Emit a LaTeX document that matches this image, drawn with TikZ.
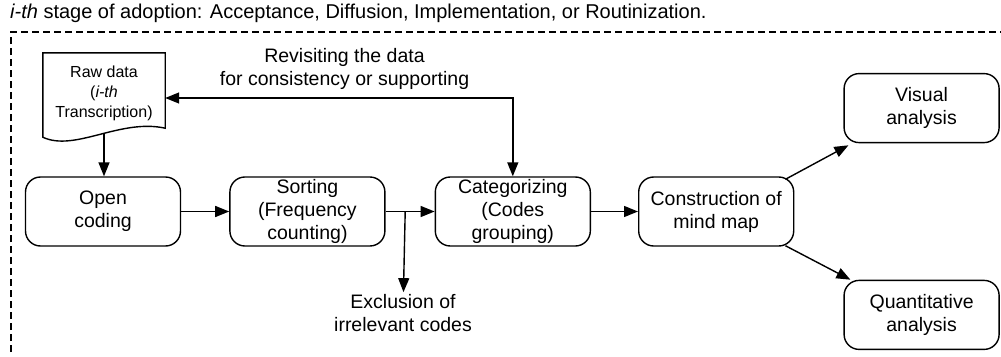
\documentclass[tikz,border=0pt]{standalone}
\usepackage{fontspec}
\setmainfont{Liberation Sans}
\usetikzlibrary{positioning,calc,arrows.meta,backgrounds}

\begin{document}
\begin{tikzpicture}[x=1pt, y=-1pt, font=\fontsize{19.5}{23}\selectfont,
	stagebox/.style={draw, rounded corners=15pt, line width=1.4pt, minimum width=155pt, minimum height=69pt, align=center, inner sep=2pt},
	flow/.style={line width=1.4pt, -{Triangle[length=14pt,width=11pt]}},
	twoway/.style={line width=1.4pt, {Triangle[length=14pt,width=11pt]}-{Triangle[length=14pt,width=11pt]}},
	rawdoc/.style={minimum width=122pt, minimum height=81pt, align=center, inner sep=0pt, font=\fontsize{16}{20}\selectfont}]
	
	\useasboundingbox (0,0) rectangle (1001,356);
	
	% stage frame and caption
	\node[anchor=base west, inner sep=0pt, font=\fontsize{20}{24}\selectfont] (title) at (10,18) {\textit{i-th} stage of adoption: Acceptance, Diffusion, Implementation, or Routinization.};
	\draw[line width=1.1pt, dash pattern=on 7pt off 4pt] (11,352) -- (11,32) -- (1001,32);
	
	% raw data document
	\node[rawdoc] (raw) at (104,93.5) {Raw data\\(\textit{i-th}\\Transcription)};
	\begin{pgfonlayer}{background}
		\fill[black!30, shift={(3,4)}] (raw.north west) -- (raw.north east) -- ($(raw.south east)+(0,-6)$) .. controls +(-45,-10) and +(32,15) .. ($(raw.south west)+(0,3)$) -- cycle;
		\draw[line width=1.4pt, fill=white] (raw.north west) -- (raw.north east) -- ($(raw.south east)+(0,-6)$) .. controls +(-45,-10) and +(32,15) .. ($(raw.south west)+(0,3)$) -- cycle;
	\end{pgfonlayer}
	
	% main steps
	\node[stagebox] (open) at (103,211.5) {Open\\coding};
	\node[stagebox, right=48pt of open] (sort) {Sorting\\(Frequency\\counting)};
	\node[stagebox, right=49pt of sort] (cat) {Categorizing\\(Codes\\grouping)};
	\node[stagebox, right=47pt of cat] (mind) {Construction of\\mind map};
	\node[stagebox, above right=33pt and 49pt of mind] (visual) {Visual\\analysis};
	\node[stagebox, below right=33pt and 49pt of mind] (quant) {Quantitative\\analysis};
	
	% side labels
	\node[align=center] (revisit) at (344.5,69) {Revisiting the data\\for consistency or supporting};
	\node[align=center, inner sep=2pt] (excl) at (403,313) {Exclusion of\\irrelevant codes};
	\coordinate (split) at ($(sort.east)!0.4!(cat.west)$);
	
	% connectors
	\draw[flow] (raw.south) -- (raw.south |- open.north);
	\draw[flow] (open) -- (sort);
	\draw[flow] (sort) -- (cat);
	\draw[flow] (split) -- (excl);
	\draw[flow] (cat) -- (mind);
	\draw[twoway] ([yshift=-4.5pt]raw.east) -| (cat.north);
	\draw[flow] ([xshift=-9pt,yshift=-3pt]mind.north east) -- ([xshift=5pt,yshift=-2pt]visual.south west);
	\draw[flow] ([xshift=-9pt,yshift=1pt]mind.south east) -- ([xshift=7pt]quant.north west);
\end{tikzpicture}
\end{document}
